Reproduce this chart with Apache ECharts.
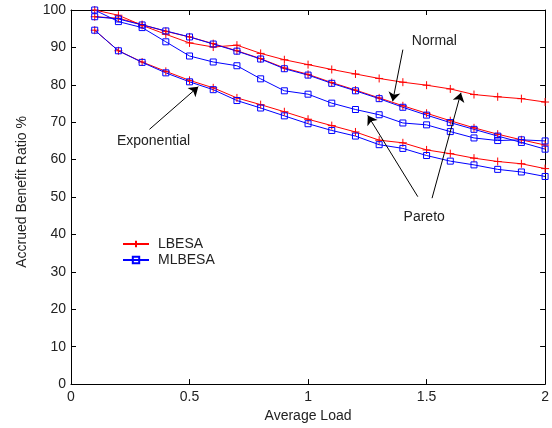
<!DOCTYPE html>
<html>
<head>
<meta charset="utf-8">
<script src="https://cdn.jsdelivr.net/npm/echarts@6/dist/echarts.min.js"></script>
<style>
  html, body { margin: 0; padding: 0; background: #fff; }
  #chart { width: 552px; height: 428px; }
</style>
</head>
<body>
<div id="chart"></div>
<script>
// Average load on the x axis
const loads = [0.1, 0.2, 0.3, 0.4, 0.5, 0.6, 0.7, 0.8, 0.9, 1.0,
               1.1, 1.2, 1.3, 1.4, 1.5, 1.6, 1.7, 1.8, 1.9, 2.0];

// Accrued benefit ratio (%) per distribution and algorithm
const normalLBESA  = [98.2, 97.8, 96.1, 94.3, 92.8, 91.0, 89.1, 87.0, 84.5, 82.8,
                      80.6, 78.6, 76.5, 74.4, 72.4, 70.4, 68.5, 66.8, 65.3, 63.9];
const normalMLBESA = [98.2, 97.6, 96.0, 94.4, 92.8, 90.9, 89.0, 86.9, 84.3, 82.6,
                      80.4, 78.4, 76.3, 74.0, 71.9, 69.9, 68.1, 66.3, 64.6, 62.8];
const paretoLBESA  = [100, 98.6, 95.9, 93.5, 91.2, 90.1, 90.6, 88.4, 86.7, 85.4,
                      84.1, 82.9, 81.7, 80.7, 79.9, 78.9, 77.4, 76.8, 76.3, 75.4];
const paretoMLBESA = [100, 96.9, 95.3, 91.5, 87.7, 86.1, 85.1, 81.6, 78.4, 77.5,
                      75.1, 73.4, 72.0, 69.8, 69.3, 67.5, 65.8, 65.1, 65.3, 65.0];
const expLBESA     = [94.6, 89.1, 86.1, 83.6, 81.2, 79.2, 76.5, 74.7, 72.8, 70.8,
                      69.1, 67.4, 65.2, 64.5, 62.6, 61.6, 60.4, 59.5, 58.9, 57.6];
const expMLBESA    = [94.6, 89.1, 86.0, 83.2, 80.8, 78.7, 75.8, 73.8, 71.7, 69.6,
                      67.8, 66.3, 64.0, 63.0, 61.1, 59.6, 58.6, 57.4, 56.7, 55.5];

// Annotation labels: [text, x, y]
const notes = [
  ['Normal', 1.533, 91.8],
  ['Exponential', 0.348, 64.9],
  ['Pareto', 1.490, 44.6]
];
// Annotation arrows: [fromX, fromY, toX, toY]
const arrows = [
  [1.400, 89.4, 1.357, 75.6],
  [0.331, 68.1, 0.537, 79.5],
  [1.463, 50.1, 1.252, 71.8],
  [1.523, 49.7, 1.645, 77.9]
];

const FONT = "'Liberation Sans', Arial, Helvetica, sans-serif";
const TXT = '#222';
const plusSymbol = 'path://M0,4L8,4M4,0L4,8';

function pairs(ys) { return loads.map((x, i) => [x, ys[i]]); }

function lbesa(ys) {
  return {
    name: 'LBESA', type: 'line', data: pairs(ys),
    symbol: plusSymbol, symbolSize: 8, showAllSymbol: true,
    lineStyle: { color: '#ff0000', width: 1 },
    itemStyle: { color: '#ff0000', borderColor: '#ff0000', borderWidth: 1 },
    emphasis: { disabled: true }, animation: false
  };
}
function mlbesa(ys) {
  return {
    name: 'MLBESA', type: 'line', data: pairs(ys),
    symbol: 'rect', symbolSize: 6, showAllSymbol: true,
    lineStyle: { color: '#0000ff', width: 1 },
    itemStyle: { color: 'rgba(255,255,255,0)', borderColor: '#0000ff', borderWidth: 1 },
    emphasis: { disabled: true }, animation: false
  };
}

const axisCommon = {
  type: 'value',
  axisLine: { show: true, onZero: false, lineStyle: { color: '#000', width: 1 } },
  axisTick: { show: true, inside: true, length: 5, lineStyle: { color: '#000' } },
  splitLine: { show: false }
};

const chart = echarts.init(document.getElementById('chart'), null, { renderer: 'canvas' });

chart.setOption({
  animation: false,
  backgroundColor: '#fff',
  textStyle: { fontFamily: FONT },
  grid: { left: 71, right: 6, top: 10, bottom: 43, containLabel: false },
  legend: {
    data: ['LBESA', 'MLBESA'],
    orient: 'vertical', left: 117, top: 232,
    itemWidth: 26, itemHeight: 8, itemGap: 2,
    textStyle: { fontFamily: FONT, fontSize: 14, color: TXT, padding: [0, 0, 0, 4] },
    selectedMode: false
  },
  xAxis: [
    Object.assign({}, axisCommon, {
      position: 'bottom', min: 0, max: 2, interval: 0.5,
      axisLabel: { show: true, color: TXT, fontSize: 14, fontFamily: FONT, margin: 6 },
      name: 'Average Load', nameLocation: 'middle', nameGap: 24,
      nameTextStyle: { color: TXT, fontSize: 14, fontFamily: FONT }
    }),
    Object.assign({}, axisCommon, {
      position: 'top', min: 0, max: 2, interval: 0.5,
      axisLabel: { show: false }
    })
  ],
  yAxis: [
    Object.assign({}, axisCommon, {
      position: 'left', min: 0, max: 100, interval: 10,
      axisLabel: { show: true, color: TXT, fontSize: 14, fontFamily: FONT, margin: 5 }
    }),
    Object.assign({}, axisCommon, {
      position: 'right', min: 0, max: 100, interval: 10,
      axisLabel: { show: false }
    })
  ],
  graphic: [{
    type: 'text', x: 22, y: 192, rotation: Math.PI / 2,
    style: {
      text: 'Accrued Benefit Ratio %', fill: TXT,
      font: '14px ' + FONT, align: 'center', verticalAlign: 'middle'
    }
  }],
  series: [
    lbesa(paretoLBESA), lbesa(normalLBESA), lbesa(expLBESA),
    mlbesa(paretoMLBESA), mlbesa(normalMLBESA), mlbesa(expMLBESA),
    {
      name: 'notes', type: 'scatter', data: [], silent: true,
      markLine: {
        silent: true, animation: false,
        symbol: ['none', 'arrow'], symbolSize: 9,
        lineStyle: { color: '#000', width: 1, type: 'solid' },
        label: { show: false },
        emphasis: { disabled: true },
        data: arrows.map(a => [{ coord: [a[0], a[1]] }, { coord: [a[2], a[3]] }])
      },
      markPoint: {
        silent: true, animation: false,
        symbol: 'circle', symbolSize: 0,
        itemStyle: { color: 'transparent' },
        label: {
          show: true, position: 'inside', color: TXT,
          fontSize: 14, fontFamily: FONT,
          formatter: p => p.name
        },
        data: notes.map(n => ({ name: n[0], coord: [n[1], n[2]] }))
      }
    }
  ]
});
</script>
</body>
</html>
